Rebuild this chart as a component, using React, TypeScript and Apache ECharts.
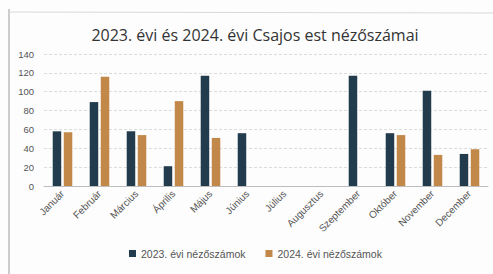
import React, { useEffect, useRef } from "react";
import * as echarts from "echarts";

const months = ["Január", "Február", "Március", "Április", "Május", "Június", "Július", "Augusztus", "Szeptember", "Október", "November", "December"];
const series2023 = [58, 89, 58, 21, 117, 56, null, null, 117, 56, 101, 34];
const series2024 = [57, 116, 54, 90, 51, null, null, null, null, 54, 33, 39];
const seriesNames = ["2023. évi nézőszámok", "2024. évi nézőszámok"];
const titleText = "2023. évi és 2024. évi Csajos est nézőszámai";

export default function App() {
  const ref = useRef<HTMLDivElement>(null);
  useEffect(() => {
    const chart = echarts.init(ref.current!, null, { renderer: "svg" });
    chart.setOption({
      animation: false,
      backgroundColor: "#fdfdfd",
      title: {
        text: titleText,
        left: 250,
        textAlign: "center",
        top: 22,
        textStyle: { fontFamily: "Open Sans", fontSize: 16, fontWeight: 500, color: "#333" },
      },
      legend: {
        bottom: 10,
        left: 124,
        itemWidth: 7,
        itemHeight: 7,
        itemGap: 20,
        icon: "rect",
        textStyle: { fontFamily: "Liberation Sans", fontSize: 10.5, color: "#555" },
        data: seriesNames,
      },
      grid: { left: 44, right: 5, top: 54, bottom: 88, containLabel: false },
      xAxis: {
        type: "category",
        data: months,
        axisLine: { lineStyle: { color: "#bdbdbd" } },
        axisTick: { show: false },
        axisLabel: { rotate: 45, fontSize: 10, fontFamily: "Liberation Sans", color: "#555", margin: 6, interval: 0 },
      },
      yAxis: {
        type: "value",
        min: 0,
        max: 140,
        interval: 20,
        axisLine: { show: false },
        axisTick: { show: false },
        splitLine: { lineStyle: { color: "#dcdcdc", type: [3, 2] } },
        axisLabel: { fontSize: 9.5, fontFamily: "Liberation Sans", color: "#555", margin: 10 },
      },
      series: [
        { name: seriesNames[0], type: "bar", data: series2023, barWidth: 8.5, barGap: "30%", itemStyle: { color: "#223c4e" } },
        { name: seriesNames[1], type: "bar", data: series2024, barWidth: 8.5, barGap: "30%", itemStyle: { color: "#c2884a" } },
      ],
      graphic: [
        { type: "line", shape: { x1: 9, y1: 9, x2: 9, y2: 274 }, style: { stroke: "#9a9a9a", lineWidth: 1 } },
        { type: "line", shape: { x1: 9, y1: 12, x2: 493, y2: 13 }, style: { stroke: "#d8d8d8", lineWidth: 1 } },
      ],
    });
    return () => chart.dispose();
  }, []);
  return <div ref={ref} style={{ position: "fixed", left: 0, top: 0, width: 493, height: 274 }} />;
}
